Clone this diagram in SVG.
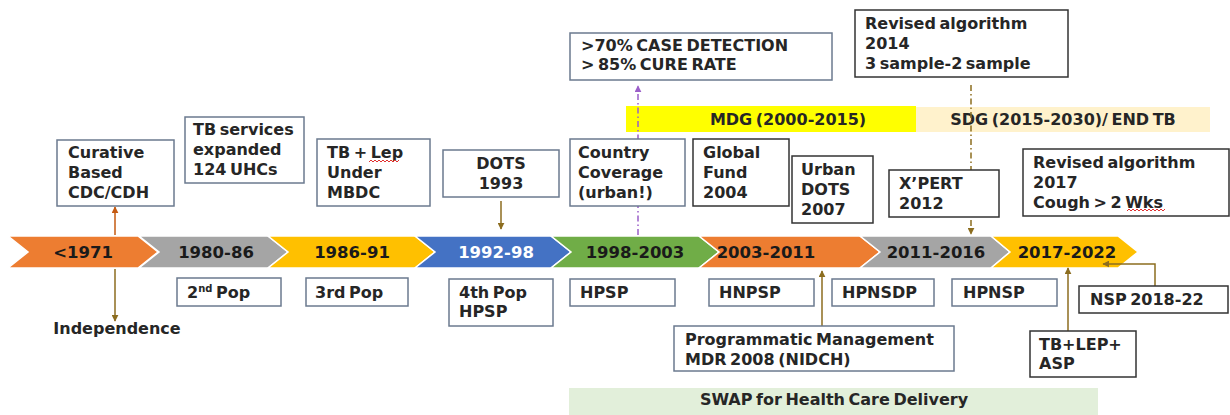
<svg xmlns="http://www.w3.org/2000/svg" width="1230" height="415" viewBox="0 0 1230 415">
<defs>
<style>
text{font-family:"DejaVu Sans","Liberation Sans",sans-serif;font-weight:bold;font-size:16px;fill:#262626;word-spacing:-2px}
.box{fill:#fff;stroke:#6B7A8F;stroke-width:1.5}
.dbox{fill:#fff;stroke:#333;stroke-width:1.5}
.chev{stroke:#fff;stroke-width:1.5}
.ct{text-anchor:middle;font-size:16.5px;fill:#1a1a1a}
.mid{text-anchor:middle}
.ol{stroke:#8C6D1F;stroke-width:1.5;fill:none}
.sq{stroke:#E03030;stroke-width:1;fill:none}
</style>
<marker id="ao" viewBox="0 0 10 10" refX="9" refY="5" markerWidth="7" markerHeight="7" markerUnits="userSpaceOnUse" orient="auto"><path d="M0,0L10,5L0,10z" fill="#8C6D1F"/></marker>
<marker id="ar" viewBox="0 0 10 10" refX="9" refY="5" markerWidth="7" markerHeight="7" markerUnits="userSpaceOnUse" orient="auto"><path d="M0,0L10,5L0,10z" fill="#C55A11"/></marker>
<marker id="ap" viewBox="0 0 10 10" refX="9" refY="5" markerWidth="7" markerHeight="7" markerUnits="userSpaceOnUse" orient="auto"><path d="M0,0L10,5L0,10z" fill="#9B5FC9"/></marker>
</defs>

<g id="bands">
<rect x="626" y="106" width="290" height="26" fill="#FFFF00"/>
<text class="mid" x="788" y="125">MDG (2000-2015)</text>
<rect x="916" y="107" width="294" height="25" fill="#FFF2CC"/>
<text class="mid" x="1063" y="125">SDG (2015-2030)/ END TB</text>
<rect x="569" y="388" width="529" height="27" fill="#E2EFDA"/>
<text class="mid" x="834" y="405">SWAP for Health Care Delivery</text>
</g>

<g id="timeline">
<g id="c1"><polygon class="chev" fill="#ED7D31" points="8,236 138,236 158,252 138,268 8,268 28,252"/><text class="ct" x="83" y="258">&lt;1971</text></g>
<g id="c2"><polygon class="chev" fill="#A5A5A5" points="139,236 268,236 288,252 268,268 139,268 159,252"/><text class="ct" x="216" y="258">1980-86</text></g>
<g id="c3"><polygon class="chev" fill="#FFC000" points="268,236 415,236 435,252 415,268 268,268 288,252"/><text class="ct" x="352" y="258">1986-91</text></g>
<g id="c4"><polygon class="chev" fill="#4472C4" points="415,236 551,236 571,252 551,268 415,268 435,252"/><text class="ct" x="496" y="258" style="fill:#fff">1992-98</text></g>
<g id="c5"><polygon class="chev" fill="#70AD47" points="551,236 699,236 719,252 699,268 551,268 571,252"/><text class="ct" x="635" y="258">1998-2003</text></g>
<g id="c6"><polygon class="chev" fill="#ED7D31" points="699,236 860,236 880,252 860,268 699,268 719,252"/><text class="ct" x="766" y="258">2003-2011</text></g>
<g id="c7"><polygon class="chev" fill="#A5A5A5" points="860,236 991,236 1010,252 991,268 860,268 880,252"/><text class="ct" x="936" y="258">2011-2016</text></g>
<g id="c8"><polygon class="chev" fill="#FFC000" points="991,236 1118,236 1138,252 1118,268 991,268 1010,252"/><text class="ct" x="1067" y="258">2017-2022</text></g>
</g>

<g id="connectors">
<line x1="115" y1="235" x2="115" y2="207" stroke="#C55A11" stroke-width="1.5" marker-end="url(#ar)"/>
<line class="ol" x1="115" y1="269" x2="115" y2="321" marker-end="url(#ao)"/>
<line class="ol" x1="501" y1="201" x2="501" y2="229" marker-end="url(#ao)"/>
<line x1="638" y1="235" x2="638" y2="86" stroke="#9B5FC9" stroke-width="1.5" stroke-dasharray="6,3,1.5,3" marker-end="url(#ap)"/>
<line class="ol" x1="971" y1="85" x2="971" y2="234" stroke-dasharray="6,3,1.5,3" marker-end="url(#ao)"/>
<line class="ol" x1="822" y1="326" x2="822" y2="271" marker-end="url(#ao)"/>
<line class="ol" x1="1068" y1="331" x2="1068" y2="268" marker-end="url(#ao)"/>
<polyline class="ol" points="1155,286 1155,264 1103,264" marker-end="url(#ao)"/>
</g>

<g id="n-curative"><rect class="box" x="57" y="140" width="117" height="66"/><text x="68" y="158">Curative</text><text x="68" y="178">Based</text><text x="68" y="198">CDC/CDH</text></g>
<g id="n-tbservices"><rect class="box" x="185" y="117" width="119" height="66"/><text x="193" y="135">TB services</text><text x="193" y="155">expanded</text><text x="193" y="175">124 UHCs</text></g>
<g id="n-tblep"><rect class="box" x="317" y="139" width="113" height="67"/><text x="327" y="158">TB + Lep</text><text x="327" y="178">Under</text><text x="327" y="198">MBDC</text><path class="sq" d="M369,162 l2,-2 l2,2 l2,-2 l2,2 l2,-2 l2,2 l2,-2 l2,2 l2,-2 l2,2 l2,-2 l2,2 l2,-2 l2,2 l2,-2"/></g>
<g id="n-dots"><rect class="box" x="443" y="150" width="116" height="47"/><text class="mid" x="501" y="169">DOTS</text><text class="mid" x="501" y="189">1993</text></g>
<g id="n-country"><rect class="box" x="570" y="139" width="115" height="67"/><text x="578" y="158">Country</text><text x="578" y="178">Coverage</text><text x="578" y="198">(urban!)</text></g>
<g id="n-global"><rect class="dbox" x="693" y="139" width="96" height="67"/><text x="703" y="158">Global</text><text x="703" y="178">Fund</text><text x="703" y="198">2004</text></g>
<g id="n-urban"><rect class="dbox" x="792" y="156" width="81" height="67"/><text x="801" y="175">Urban</text><text x="801" y="195">DOTS</text><text x="801" y="215">2007</text></g>
<g id="n-targets"><rect class="box" x="570" y="33" width="262" height="47"/><text x="581" y="51">&gt;70% CASE DETECTION</text><text x="581" y="70">&gt; 85% CURE RATE</text></g>
<g id="n-rev2014"><rect class="dbox" x="855" y="10" width="213" height="67"/><text x="865" y="29">Revised algorithm</text><text x="865" y="49">2014</text><text x="865" y="69">3 sample-2 sample</text></g>
<g id="n-xpert"><rect class="dbox" x="889" y="170" width="110" height="47"/><text x="899" y="189">X’PERT</text><text x="899" y="209">2012</text></g>
<g id="n-rev2017"><rect class="dbox" x="1023" y="149" width="206" height="67"/><text x="1033" y="168">Revised algorithm</text><text x="1033" y="188">2017</text><text x="1033" y="208">Cough &gt; 2 Wks</text><path class="sq" d="M1127,211 l2,-2 l2,2 l2,-2 l2,2 l2,-2 l2,2 l2,-2 l2,2 l2,-2 l2,2 l2,-2 l2,2 l2,-2 l2,2 l2,-2 l2,2 l2,-2 l2,2 l2,-2"/></g>
<g id="n-pop2"><rect class="box" x="177" y="278" width="104" height="28"/><text x="187" y="298">2<tspan dy="-6" font-size="10">nd</tspan><tspan dy="6"> Pop</tspan></text></g>
<g id="n-pop3"><rect class="box" x="306" y="278" width="102" height="28"/><text x="315" y="298">3rd Pop</text></g>
<g id="n-pop4"><rect class="box" x="449" y="279" width="104" height="47"/><text x="459" y="298">4th Pop</text><text x="459" y="317">HPSP</text></g>
<g id="n-hpsp"><rect class="box" x="570" y="279" width="105" height="27"/><text x="580" y="298">HPSP</text></g>
<g id="n-hnpsp"><rect class="box" x="709" y="279" width="105" height="27"/><text x="719" y="298">HNPSP</text></g>
<g id="n-hpnsdp"><rect class="box" x="832" y="279" width="102" height="27"/><text x="842" y="298">HPNSDP</text></g>
<g id="n-hpnsp"><rect class="box" x="952" y="279" width="105" height="27"/><text x="963" y="298">HPNSP</text></g>
<g id="n-nsp"><rect class="dbox" x="1079" y="286" width="149" height="27"/><text x="1090" y="305">NSP 2018-22</text></g>
<g id="n-pmdt"><rect class="box" x="674" y="326" width="280" height="45"/><text x="685" y="345">Programmatic Management</text><text x="685" y="365">MDR 2008 (NIDCH)</text></g>
<g id="n-tblepasp"><rect class="dbox" x="1030" y="331" width="106" height="46"/><text x="1039" y="350">TB+LEP+</text><text x="1039" y="369">ASP</text></g>
<g id="n-independence"><text class="mid" x="117" y="334">Independence</text></g>
</svg>
